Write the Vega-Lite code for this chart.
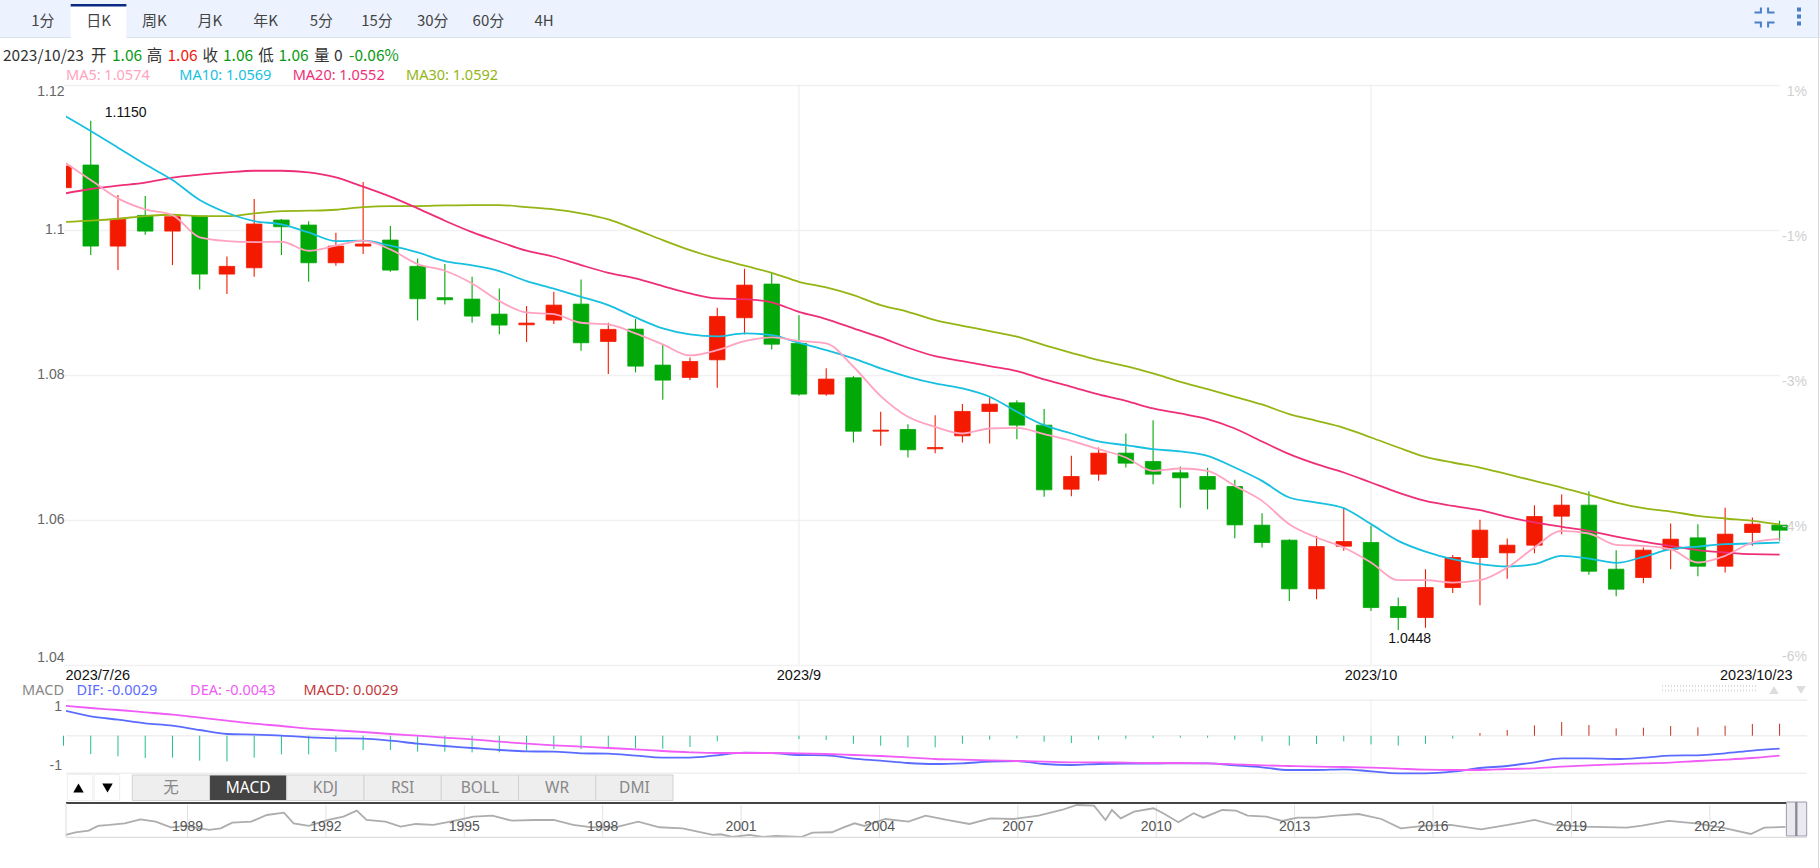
{
"$schema":"https://vega.github.io/schema/vega-lite/v6.json",
"background":"white",
"autosize":{"type":"none"},
"padding":{"left":66,"top":0,"right":13,"bottom":0},
"width":1741,"height":868,
"config":{"view":{"stroke":null},"text":{"font":"Liberation Sans"}},
"resolve":{"scale":{"x":"independent","y":"independent","color":"independent"}},
"datasets":{
"candles":[
{"date":"2023-07-26","open":1.10577,"high":1.10876,"low":1.10577,"close":1.10876,"ma5":1.10936,"ma10":1.11579,"ma20":1.10494,"ma30":1.10103,"dif":0.00477,"dea":0.0057,"macd":-0.00264},
{"date":"2023-07-27","open":1.1089,"high":1.115,"low":1.09648,"close":1.09772,"ma5":1.10683,"ma10":1.11359,"ma20":1.10559,"ma30":1.10122,"dif":0.00357,"dea":0.00523,"macd":-0.00483},
{"date":"2023-07-28","open":1.09772,"high":1.10476,"low":1.09441,"close":1.1014,"ma5":1.1043,"ma10":1.11129,"ma20":1.10605,"ma30":1.10149,"dif":0.0029,"dea":0.00483,"macd":-0.00545},
{"date":"2023-07-31","open":1.10195,"high":1.10462,"low":1.09929,"close":1.09979,"ma5":1.10278,"ma10":1.10899,"ma20":1.10646,"ma30":1.10186,"dif":0.00217,"dea":0.00437,"macd":-0.00589},
{"date":"2023-08-01","open":1.09979,"high":1.102,"low":1.0951,"close":1.10177,"ma5":1.102,"ma10":1.10683,"ma20":1.10715,"ma30":1.10204,"dif":0.0017,"dea":0.0039,"macd":-0.0058},
{"date":"2023-08-02","open":1.10186,"high":1.10186,"low":1.09175,"close":1.09386,"ma5":1.09892,"ma10":1.10407,"ma20":1.10756,"ma30":1.10186,"dif":0.00083,"dea":0.0033,"macd":-0.00659},
{"date":"2023-08-03","open":1.09386,"high":1.0963,"low":1.0911,"close":1.09492,"ma5":1.09841,"ma10":1.10232,"ma20":1.10788,"ma30":1.10186,"dif":0.00003,"dea":0.0027,"macd":-0.00677},
{"date":"2023-08-04","open":1.09473,"high":1.10421,"low":1.09349,"close":1.10076,"ma5":1.09827,"ma10":1.10117,"ma20":1.10811,"ma30":1.10223,"dif":-0.0001,"dea":0.0021,"macd":-0.0058},
{"date":"2023-08-07","open":1.10131,"high":1.10145,"low":1.09648,"close":1.10039,"ma5":1.09832,"ma10":1.10071,"ma20":1.10811,"ma30":1.10255,"dif":-0.0003,"dea":0.00163,"macd":-0.00492},
{"date":"2023-08-08","open":1.10062,"high":1.10113,"low":1.0928,"close":1.09542,"ma5":1.09708,"ma10":1.09961,"ma20":1.10788,"ma30":1.1026,"dif":-0.00063,"dea":0.0011,"macd":-0.00492},
{"date":"2023-08-09","open":1.09542,"high":1.09956,"low":1.09501,"close":1.09772,"ma5":1.09777,"ma10":1.09841,"ma20":1.10719,"ma30":1.10273,"dif":-0.00083,"dea":0.00077,"macd":-0.00422},
{"date":"2023-08-10","open":1.09772,"high":1.10655,"low":1.09662,"close":1.098,"ma5":1.09846,"ma10":1.09846,"ma20":1.10591,"ma30":1.1031,"dif":-0.0009,"dea":0.00043,"macd":-0.00378},
{"date":"2023-08-11","open":1.09855,"high":1.10048,"low":1.09418,"close":1.09441,"ma5":1.09726,"ma10":1.09777,"ma20":1.10453,"ma30":1.10324,"dif":-0.0013,"dea":0.00003,"macd":-0.00378},
{"date":"2023-08-14","open":1.09492,"high":1.09602,"low":1.08747,"close":1.09046,"ma5":1.09524,"ma10":1.09685,"ma20":1.10292,"ma30":1.10324,"dif":-0.0019,"dea":-0.0003,"macd":-0.00422},
{"date":"2023-08-15","open":1.0906,"high":1.09524,"low":1.08968,"close":1.09032,"ma5":1.09432,"ma10":1.09565,"ma20":1.10122,"ma30":1.10333,"dif":-0.00237,"dea":-0.0007,"macd":-0.00422},
{"date":"2023-08-16","open":1.09041,"high":1.09349,"low":1.08715,"close":1.08807,"ma5":1.09257,"ma10":1.09506,"ma20":1.09965,"ma30":1.10338,"dif":-0.00277,"dea":-0.00103,"macd":-0.0044},
{"date":"2023-08-17","open":1.08834,"high":1.09188,"low":1.08558,"close":1.08683,"ma5":1.09014,"ma10":1.09427,"ma20":1.09832,"ma30":1.10338,"dif":-0.00317,"dea":-0.0015,"macd":-0.0044},
{"date":"2023-08-18","open":1.08687,"high":1.08945,"low":1.08448,"close":1.0871,"ma5":1.08857,"ma10":1.09289,"ma20":1.09708,"ma30":1.1031,"dif":-0.00343,"dea":-0.0019,"macd":-0.00396},
{"date":"2023-08-21","open":1.08752,"high":1.09142,"low":1.08696,"close":1.08958,"ma5":1.08834,"ma10":1.09184,"ma20":1.09625,"ma30":1.10278,"dif":-0.0035,"dea":-0.00223,"macd":-0.00352},
{"date":"2023-08-22","open":1.08972,"high":1.09312,"low":1.08329,"close":1.08439,"ma5":1.08715,"ma10":1.09073,"ma20":1.0951,"ma30":1.10223,"dif":-0.00383,"dea":-0.0025,"macd":-0.00352},
{"date":"2023-08-23","open":1.08457,"high":1.08715,"low":1.08007,"close":1.08623,"ma5":1.08692,"ma10":1.08958,"ma20":1.09404,"ma30":1.1014,"dif":-0.0039,"dea":-0.00277,"macd":-0.00299},
{"date":"2023-08-24","open":1.08627,"high":1.08765,"low":1.0803,"close":1.08117,"ma5":1.08568,"ma10":1.08788,"ma20":1.09326,"ma30":1.10002,"dif":-0.0043,"dea":-0.00303,"macd":-0.00334},
{"date":"2023-08-25","open":1.08131,"high":1.08416,"low":1.07653,"close":1.07924,"ma5":1.08416,"ma10":1.08637,"ma20":1.09221,"ma30":1.09855,"dif":-0.0047,"dea":-0.00337,"macd":-0.00343},
{"date":"2023-08-28","open":1.07961,"high":1.08237,"low":1.07924,"close":1.08181,"ma5":1.08264,"ma10":1.08554,"ma20":1.09119,"ma30":1.09717,"dif":-0.0047,"dea":-0.00363,"macd":-0.00299},
{"date":"2023-08-29","open":1.08204,"high":1.08922,"low":1.07818,"close":1.08802,"ma5":1.08338,"ma10":1.08526,"ma20":1.0905,"ma30":1.09602,"dif":-0.00423,"dea":-0.00377,"macd":-0.00149},
{"date":"2023-08-30","open":1.08784,"high":1.0946,"low":1.08554,"close":1.09234,"ma5":1.08462,"ma10":1.08568,"ma20":1.09041,"ma30":1.09501,"dif":-0.0037,"dea":-0.00377,"macd":0},
{"date":"2023-08-31","open":1.09248,"high":1.09404,"low":1.08347,"close":1.0842,"ma5":1.08512,"ma10":1.08545,"ma20":1.08995,"ma30":1.09404,"dif":-0.00377,"dea":-0.00377,"macd":0},
{"date":"2023-09-01","open":1.0843,"high":1.0882,"low":1.07708,"close":1.07731,"ma5":1.08466,"ma10":1.08439,"ma20":1.08866,"ma30":1.0928,"dif":-0.00417,"dea":-0.00383,"macd":-0.00088},
{"date":"2023-09-04","open":1.07731,"high":1.08089,"low":1.07708,"close":1.07938,"ma5":1.0843,"ma10":1.08338,"ma20":1.08765,"ma30":1.09202,"dif":-0.00423,"dea":-0.00397,"macd":-0.00114},
{"date":"2023-09-05","open":1.07956,"high":1.07979,"low":1.07064,"close":1.0722,"ma5":1.08108,"ma10":1.08223,"ma20":1.08637,"ma30":1.09096,"dif":-0.0049,"dea":-0.00417,"macd":-0.00211},
{"date":"2023-09-06","open":1.0722,"high":1.07487,"low":1.07018,"close":1.07234,"ma5":1.07703,"ma10":1.08085,"ma20":1.08512,"ma30":1.08958,"dif":-0.0053,"dea":-0.00437,"macd":-0.00264},
{"date":"2023-09-07","open":1.07243,"high":1.07317,"low":1.06857,"close":1.06963,"ma5":1.07418,"ma10":1.0797,"ma20":1.0837,"ma30":1.08866,"dif":-0.00577,"dea":-0.00463,"macd":-0.00308},
{"date":"2023-09-08","open":1.06977,"high":1.07441,"low":1.06917,"close":1.06995,"ma5":1.0728,"ma10":1.07878,"ma20":1.08255,"ma30":1.08752,"dif":-0.00597,"dea":-0.00497,"macd":-0.00308},
{"date":"2023-09-11","open":1.07156,"high":1.07593,"low":1.07064,"close":1.07492,"ma5":1.07188,"ma10":1.07809,"ma20":1.08186,"ma30":1.08673,"dif":-0.00583,"dea":-0.0051,"macd":-0.00211},
{"date":"2023-09-12","open":1.07492,"high":1.07685,"low":1.0705,"close":1.07593,"ma5":1.07257,"ma10":1.07694,"ma20":1.08117,"ma30":1.086,"dif":-0.0055,"dea":-0.00523,"macd":-0.00105},
{"date":"2023-09-13","open":1.07611,"high":1.07648,"low":1.0711,"close":1.07303,"ma5":1.07266,"ma10":1.07487,"ma20":1.08048,"ma30":1.08522,"dif":-0.00537,"dea":-0.00537,"macd":-0.0007},
{"date":"2023-09-14","open":1.07303,"high":1.07524,"low":1.06315,"close":1.06411,"ma5":1.07179,"ma10":1.07303,"ma20":1.07933,"ma30":1.08407,"dif":-0.00597,"dea":-0.0055,"macd":-0.00158},
{"date":"2023-09-15","open":1.0642,"high":1.0688,"low":1.06324,"close":1.06595,"ma5":1.07087,"ma10":1.07188,"ma20":1.07832,"ma30":1.08301,"dif":-0.00617,"dea":-0.00563,"macd":-0.00193},
{"date":"2023-09-18","open":1.06627,"high":1.06995,"low":1.06535,"close":1.06917,"ma5":1.06972,"ma10":1.07078,"ma20":1.07726,"ma30":1.082,"dif":-0.00597,"dea":-0.00563,"macd":-0.00105},
{"date":"2023-09-19","open":1.06917,"high":1.07188,"low":1.06719,"close":1.06779,"ma5":1.06857,"ma10":1.07027,"ma20":1.07639,"ma30":1.08117,"dif":-0.0059,"dea":-0.0057,"macd":-0.00079},
{"date":"2023-09-20","open":1.06802,"high":1.07372,"low":1.06489,"close":1.06627,"ma5":1.06673,"ma10":1.06972,"ma20":1.07533,"ma30":1.08016,"dif":-0.0059,"dea":-0.00577,"macd":-0.00062},
{"date":"2023-09-21","open":1.06646,"high":1.06733,"low":1.06163,"close":1.06577,"ma5":1.06705,"ma10":1.0694,"ma20":1.07464,"ma30":1.07901,"dif":-0.00583,"dea":-0.00577,"macd":-0.00053},
{"date":"2023-09-22","open":1.06595,"high":1.06715,"low":1.06144,"close":1.0642,"ma5":1.06673,"ma10":1.0688,"ma20":1.07386,"ma30":1.078,"dif":-0.00583,"dea":-0.00583,"macd":-0.00053},
{"date":"2023-09-25","open":1.06457,"high":1.06549,"low":1.05744,"close":1.05928,"ma5":1.06466,"ma10":1.06719,"ma20":1.07257,"ma30":1.07694,"dif":-0.00623,"dea":-0.00603,"macd":-0.00105},
{"date":"2023-09-26","open":1.05924,"high":1.06089,"low":1.05616,"close":1.05685,"ma5":1.06259,"ma10":1.06535,"ma20":1.07078,"ma30":1.07588,"dif":-0.00663,"dea":-0.00623,"macd":-0.00149},
{"date":"2023-09-27","open":1.05717,"high":1.05731,"low":1.0488,"close":1.05046,"ma5":1.05938,"ma10":1.06305,"ma20":1.06903,"ma30":1.07455,"dif":-0.00717,"dea":-0.00637,"macd":-0.00264},
{"date":"2023-09-28","open":1.05046,"high":1.05777,"low":1.04903,"close":1.05629,"ma5":1.05754,"ma10":1.06236,"ma20":1.06765,"ma30":1.07363,"dif":-0.00717,"dea":-0.0065,"macd":-0.0022},
{"date":"2023-09-29","open":1.05634,"high":1.06167,"low":1.0557,"close":1.05698,"ma5":1.05616,"ma10":1.06158,"ma20":1.0665,"ma30":1.07266,"dif":-0.00703,"dea":-0.00657,"macd":-0.00149},
{"date":"2023-10-02","open":1.05685,"high":1.05915,"low":1.04742,"close":1.04788,"ma5":1.05409,"ma10":1.05938,"ma20":1.06512,"ma30":1.07133,"dif":-0.00743,"dea":-0.0067,"macd":-0.00229},
{"date":"2023-10-03","open":1.04802,"high":1.04926,"low":1.0448,"close":1.0465,"ma5":1.05165,"ma10":1.05708,"ma20":1.06374,"ma30":1.06995,"dif":-0.00783,"dea":-0.0069,"macd":-0.00264},
{"date":"2023-10-04","open":1.0465,"high":1.05317,"low":1.04508,"close":1.05064,"ma5":1.05165,"ma10":1.0556,"ma20":1.06259,"ma30":1.06866,"dif":-0.00783,"dea":-0.0071,"macd":-0.00211},
{"date":"2023-10-05","open":1.05064,"high":1.05514,"low":1.0499,"close":1.05478,"ma5":1.05133,"ma10":1.05455,"ma20":1.0619,"ma30":1.06788,"dif":-0.0075,"dea":-0.00717,"macd":-0.00079},
{"date":"2023-10-06","open":1.05478,"high":1.05997,"low":1.0482,"close":1.05855,"ma5":1.05165,"ma10":1.05386,"ma20":1.06131,"ma30":1.06719,"dif":-0.00677,"dea":-0.00717,"macd":0.0007},
{"date":"2023-10-09","open":1.05542,"high":1.0574,"low":1.05184,"close":1.05648,"ma5":1.0534,"ma10":1.05354,"ma20":1.06039,"ma30":1.06627,"dif":-0.00637,"dea":-0.00697,"macd":0.00149},
{"date":"2023-10-10","open":1.05648,"high":1.062,"low":1.05538,"close":1.06043,"ma5":1.05616,"ma10":1.05386,"ma20":1.05961,"ma30":1.06535,"dif":-0.00563,"dea":-0.00683,"macd":0.00272},
{"date":"2023-10-11","open":1.06048,"high":1.06347,"low":1.058,"close":1.062,"ma5":1.05846,"ma10":1.05501,"ma20":1.05901,"ma30":1.06443,"dif":-0.00483,"dea":-0.0065,"macd":0.0036},
{"date":"2023-10-12","open":1.062,"high":1.06393,"low":1.05239,"close":1.05289,"ma5":1.05809,"ma10":1.05464,"ma20":1.05846,"ma30":1.06342,"dif":-0.00483,"dea":-0.00623,"macd":0.00281},
{"date":"2023-10-13","open":1.05317,"high":1.05579,"low":1.04944,"close":1.05041,"ma5":1.05653,"ma10":1.05404,"ma20":1.05767,"ma30":1.06236,"dif":-0.00497,"dea":-0.00603,"macd":0.00193},
{"date":"2023-10-16","open":1.05202,"high":1.05616,"low":1.05124,"close":1.05579,"ma5":1.05639,"ma10":1.05487,"ma20":1.05698,"ma30":1.06158,"dif":-0.0047,"dea":-0.00583,"macd":0.00211},
{"date":"2023-10-17","open":1.05593,"high":1.05947,"low":1.05317,"close":1.05731,"ma5":1.05593,"ma10":1.05593,"ma20":1.05639,"ma30":1.06112,"dif":-0.0043,"dea":-0.0057,"macd":0.00255},
{"date":"2023-10-18","open":1.05749,"high":1.05938,"low":1.0522,"close":1.05358,"ma5":1.05409,"ma10":1.05629,"ma20":1.05579,"ma30":1.06053,"dif":-0.00423,"dea":-0.00537,"macd":0.0022},
{"date":"2023-10-19","open":1.05358,"high":1.06163,"low":1.05271,"close":1.058,"ma5":1.05501,"ma10":1.05662,"ma20":1.05547,"ma30":1.06016,"dif":-0.00383,"dea":-0.0051,"macd":0.00264},
{"date":"2023-10-20","open":1.05823,"high":1.0603,"low":1.05639,"close":1.05938,"ma5":1.05685,"ma10":1.05671,"ma20":1.05524,"ma30":1.05984,"dif":-0.0033,"dea":-0.00477,"macd":0.00308},
{"date":"2023-10-23","open":1.05924,"high":1.05984,"low":1.05708,"close":1.05855,"ma5":1.05735,"ma10":1.05685,"ma20":1.05519,"ma30":1.05933,"dif":-0.0029,"dea":-0.0043,"macd":0.00316}
],
"history":[
{"t":1986.36,"v":0.898},{"t":1986.57,"v":0.961},{"t":1986.86,"v":0.999},{"t":1987.06,"v":1.109},{"t":1987.31,"v":1.132},{"t":1987.64,"v":1.171},{"t":1987.98,"v":1.265},{"t":1988.31,"v":1.21},{"t":1988.64,"v":1.078},{"t":1988.97,"v":1.109},{"t":1989.47,"v":1.015},{"t":1989.72,"v":1.054},{"t":1989.97,"v":1.186},{"t":1990.38,"v":1.21},{"t":1990.72,"v":1.366},{"t":1991.09,"v":1.42},{"t":1991.3,"v":1.171},{"t":1991.63,"v":1.109},{"t":1992.05,"v":1.249},{"t":1992.38,"v":1.326},{"t":1992.67,"v":1.467},{"t":1992.88,"v":1.249},{"t":1993.29,"v":1.21},{"t":1993.62,"v":1.092},{"t":1993.95,"v":1.155},{"t":1994.33,"v":1.132},{"t":1994.7,"v":1.21},{"t":1995.2,"v":1.326},{"t":1995.61,"v":1.35},{"t":1996.03,"v":1.233},{"t":1996.53,"v":1.249},{"t":1996.94,"v":1.249},{"t":1997.36,"v":1.132},{"t":1997.77,"v":1.078},{"t":1998.27,"v":1.078},{"t":1998.77,"v":1.21},{"t":1999.23,"v":1.078},{"t":1999.73,"v":1.054},{"t":2000.39,"v":0.898},{"t":2000.56,"v":0.914},{"t":2000.81,"v":0.835},{"t":2001.18,"v":0.898},{"t":2001.47,"v":0.835},{"t":2001.76,"v":0.875},{"t":2002.3,"v":0.835},{"t":2002.55,"v":0.952},{"t":2002.97,"v":0.961},{"t":2003.21,"v":1.069},{"t":2003.46,"v":1.171},{"t":2003.67,"v":1.109},{"t":2004.13,"v":1.272},{"t":2004.63,"v":1.21},{"t":2005,"v":1.35},{"t":2005.46,"v":1.249},{"t":2005.95,"v":1.155},{"t":2006.41,"v":1.288},{"t":2006.91,"v":1.272},{"t":2007.45,"v":1.35},{"t":2007.95,"v":1.483},{"t":2008.28,"v":1.6},{"t":2008.65,"v":1.584},{"t":2008.9,"v":1.249},{"t":2009.04,"v":1.483},{"t":2009.23,"v":1.288},{"t":2009.52,"v":1.443},{"t":2009.94,"v":1.523},{"t":2010.15,"v":1.406},{"t":2010.48,"v":1.195},{"t":2010.81,"v":1.406},{"t":2011.02,"v":1.303},{"t":2011.43,"v":1.483},{"t":2011.73,"v":1.467},{"t":2011.98,"v":1.35},{"t":2012.39,"v":1.326},{"t":2012.73,"v":1.226},{"t":2013.06,"v":1.303},{"t":2013.47,"v":1.303},{"t":2013.89,"v":1.35},{"t":2014.39,"v":1.389},{"t":2014.88,"v":1.272},{"t":2015.3,"v":1.054},{"t":2015.8,"v":1.109},{"t":2016.38,"v":1.132},{"t":2017.04,"v":1.031},{"t":2017.62,"v":1.132},{"t":2018.2,"v":1.249},{"t":2018.62,"v":1.132},{"t":2019.28,"v":1.092},{"t":2020.2,"v":1.069},{"t":2020.53,"v":1.116},{"t":2021.11,"v":1.226},{"t":2021.69,"v":1.171},{"t":2022.27,"v":1.069},{"t":2022.89,"v":0.921},{"t":2023.18,"v":1.069},{"t":2023.64,"v":1.085}
],
"years":[{"t":1989},{"t":1992},{"t":1995},{"t":1998},{"t":2001},{"t":2004},{"t":2007},{"t":2010},{"t":2013},{"t":2016},{"t":2019},{"t":2022}]
},
"layer":[
{"data":{"values":[{}]},"mark":{"type":"rect","fill":"#ecf3fe"},"encoding":{"x":{"value":-66},"x2":{"value":1754},"y":{"value":0},"y2":{"value":37}}},
{"data":{"values":[{}]},"mark":{"type":"rule","stroke":"#d9e3ef","strokeWidth":1.2},"encoding":{"x":{"value":-66},"x2":{"value":1754},"y":{"value":37.5}}},
{"data":{"values":[{}]},"mark":{"type":"rule","stroke":"#d8d8d8","strokeWidth":1},"encoding":{"x":{"value":1752.5},"y":{"value":0},"y2":{"value":868}}},
{"data":{"values":[{"tab":"1分"},{"tab":"日K"},{"tab":"周K"},{"tab":"月K"},{"tab":"年K"},{"tab":"5分"},{"tab":"15分"},{"tab":"30分"},{"tab":"60分"},{"tab":"4H"}]},
 "encoding":{"x":{"field":"tab","type":"nominal","axis":null,"scale":{"type":"band","padding":0,"domain":["1分","日K","周K","月K","年K","5分","15分","30分","60分","4H"],"range":[-51,506]}}},
 "layer":[
  {"transform":[{"filter":"datum.tab=='日K'"}],"mark":{"type":"bar","fill":"white"},"encoding":{"y":{"value":5},"y2":{"value":38}}},
  {"transform":[{"filter":"datum.tab=='日K'"}],"mark":{"type":"bar","fill":"#0b2a85"},"encoding":{"y":{"value":4},"y2":{"value":6.5}}},
  {"mark":{"type":"text","font":"Noto Sans CJK SC","fontSize":15,"fill":"#444"},"encoding":{"text":{"field":"tab"},"y":{"value":21}}}
 ]},
{"data":{"values":[{}]},"mark":{"type":"point","filled":true,"opacity":1,"color":"#4a7ec8","size":1600,"shape":"M-.5,-.2H-.13V-.5H-.23V-.3H-.5ZM.5,-.2H.13V-.5H.23V-.3H.5ZM-.5,.2H-.13V.5H-.23V.3H-.5ZM.5,.2H.13V.5H.23V.3H.5Z"},"encoding":{"x":{"value":1698.5},"y":{"value":17.5}}},
{"data":{"values":[{}]},"mark":{"type":"point","filled":true,"opacity":1,"color":"#4a7ec8","size":1600,"shape":"M-.1,-.45H.1V-.25H-.1ZM-.1,-.1H.1V.1H-.1ZM-.1,.25H.1V.45H-.1Z"},"encoding":{"x":{"value":1733},"y":{"value":16.5}}},
{"data":{"values":[{"day":"2023/10/23"}]},"mark":{"type":"text","align":"left","font":"Noto Sans CJK SC","fontSize":15.5,"fill":"#333"},"encoding":{"text":{"field":"day"},"x":{"value":-63},"y":{"value":56}}},
{"data":{"values":[{"k":"开"},{"k":"高"},{"k":"收"},{"k":"低"},{"k":"量"}]},"mark":{"type":"text","align":"left","font":"Noto Sans CJK SC","fontSize":15.5,"fill":"#333"},"encoding":{"text":{"field":"k"},"x":{"field":"k","type":"nominal","axis":null,"sort":null,"scale":{"type":"point","padding":0,"range":[25,248]}},"y":{"value":56}}},
{"data":{"values":[{"k":"开","v":"1.06","state":"down"},{"k":"高","v":"1.06","state":"up"},{"k":"收","v":"1.06","state":"down"},{"k":"低","v":"1.06","state":"down"},{"k":"量","v":"0","state":"flat"}]},"mark":{"type":"text","align":"left","font":"Noto Sans CJK SC","fontSize":15.5},"encoding":{"text":{"field":"v"},"x":{"field":"k","type":"nominal","axis":null,"sort":null,"scale":{"type":"point","padding":0,"range":[46,268]}},"y":{"value":56},"color":{"field":"state","type":"nominal","legend":null,"scale":{"domain":["up","down","flat"],"range":["#f01a10","#0a9a14","#333333"]}}}},
{"data":{"values":[{"chg":"-0.06%"}]},"mark":{"type":"text","align":"left","font":"Noto Sans CJK SC","fontSize":15.5,"fill":"#0a9a14"},"encoding":{"text":{"field":"chg"},"x":{"value":283},"y":{"value":56}}},
{"data":{"values":[{"name":"MA5","label":"MA5: 1.0574"},{"name":"MA10","label":"MA10: 1.0569"},{"name":"MA20","label":"MA20: 1.0552"},{"name":"MA30","label":"MA30: 1.0592"}]},"mark":{"type":"text","align":"left","font":"Noto Sans","fontSize":14.5},"encoding":{"text":{"field":"label"},"x":{"field":"name","type":"nominal","axis":null,"sort":null,"scale":{"type":"point","padding":0,"range":[0,340]}},"y":{"value":75.5},"color":{"field":"name","type":"nominal","legend":null,"scale":{"domain":["MA5","MA10","MA20","MA30"],"range":["#ffa3c0","#17bfe0","#ee2f78","#94b514"]}}}},
{"data":{"name":"candles"},
 "encoding":{"x":{"field":"date","type":"ordinal","axis":null,"scale":{"type":"point","padding":0,"range":[-2.5,1713.6],"domain":["2023-07-26","2023-07-27","2023-07-28","2023-07-31","2023-08-01","2023-08-02","2023-08-03","2023-08-04","2023-08-07","2023-08-08","2023-08-09","2023-08-10","2023-08-11","2023-08-14","2023-08-15","2023-08-16","2023-08-17","2023-08-18","2023-08-21","2023-08-22","2023-08-23","2023-08-24","2023-08-25","2023-08-28","2023-08-29","2023-08-30","2023-08-31","2023-09-01","2023-09-04","2023-09-05","2023-09-06","2023-09-07","2023-09-08","2023-09-11","2023-09-12","2023-09-13","2023-09-14","2023-09-15","2023-09-18","2023-09-19","2023-09-20","2023-09-21","2023-09-22","2023-09-25","2023-09-26","2023-09-27","2023-09-28","2023-09-29","2023-10-02","2023-10-03","2023-10-04","2023-10-05","2023-10-06","2023-10-09","2023-10-10","2023-10-11","2023-10-12","2023-10-13","2023-10-16","2023-10-17","2023-10-18","2023-10-19","2023-10-20","2023-10-23"]}}},
 "resolve":{"scale":{"y":"independent"}},
 "layer":[
  {"layer":[
   {"transform":[{"filter":"datum.date=='2023-09-01'||datum.date=='2023-10-02'"}],"mark":{"type":"rule","stroke":"#eeeeee","strokeWidth":1.2},"encoding":{"y":{"datum":1.12,"title":null,"scale":{"domain":[1.04,1.12],"range":[664.7,84.5]},"axis":{"values":[1.04,1.06,1.08,1.1,1.12],"format":".2~f","orient":"left","grid":true,"gridColor":"#f1f1f1","gridWidth":1.6,"domain":false,"ticks":false,"labelFontSize":14,"labelColor":"#666666","labelFont":"Liberation Sans","labelFlush":true,"labelPadding":2,"title":null}},"y2":{"datum":1.04}}},
   {"mark":{"type":"rule","clip":true,"strokeWidth":1.1},"encoding":{"y":{"field":"low","type":"quantitative","title":null,"scale":{"domain":[1.04,1.12],"range":[664.7,84.5]}},"y2":{"field":"high"},"color":{"condition":{"test":"datum.close>datum.open","value":"#f41a00"},"value":"#00a808"}}},
   {"mark":{"type":"bar","clip":true,"size":15.5,"strokeWidth":0.8},"encoding":{"y":{"field":"open","type":"quantitative","title":null,"scale":{"domain":[1.04,1.12],"range":[664.7,84.5]}},"y2":{"field":"close"},"color":{"condition":{"test":"datum.close>datum.open","value":"#f41a00"},"value":"#00a808"},"stroke":{"condition":{"test":"datum.close>datum.open","value":"#f41a00"},"value":"#00a808"}}},
   {"mark":{"type":"line","clip":true,"stroke":"#94b514","strokeWidth":1.8,"interpolate":"monotone"},"encoding":{"y":{"field":"ma30","type":"quantitative","title":null,"scale":{"domain":[1.04,1.12],"range":[664.7,84.5]}}}},
   {"mark":{"type":"line","clip":true,"stroke":"#ee2f78","strokeWidth":1.8,"interpolate":"monotone"},"encoding":{"y":{"field":"ma20","type":"quantitative","title":null,"scale":{"domain":[1.04,1.12],"range":[664.7,84.5]}}}},
   {"mark":{"type":"line","clip":true,"stroke":"#17bfe0","strokeWidth":1.8,"interpolate":"monotone"},"encoding":{"y":{"field":"ma10","type":"quantitative","title":null,"scale":{"domain":[1.04,1.12],"range":[664.7,84.5]}}}},
   {"mark":{"type":"line","clip":true,"stroke":"#ffa3c0","strokeWidth":1.8,"interpolate":"monotone"},"encoding":{"y":{"field":"ma5","type":"quantitative","title":null,"scale":{"domain":[1.04,1.12],"range":[664.7,84.5]}}}},
   {"transform":[{"filter":"datum.date=='2023-07-27'"}],"mark":{"type":"text","align":"left","dx":14,"dy":-8,"fontSize":14,"fill":"#111"},"encoding":{"y":{"field":"high","type":"quantitative","title":null,"scale":{"domain":[1.04,1.12],"range":[664.7,84.5]}},"text":{"field":"high","format":".4f"}}},
   {"transform":[{"filter":"datum.date=='2023-10-03'"}],"mark":{"type":"text","align":"left","dx":-10,"dy":9,"fontSize":14,"fill":"#111"},"encoding":{"y":{"field":"low","type":"quantitative","title":null,"scale":{"domain":[1.04,1.12],"range":[664.7,84.5]}},"text":{"field":"low","format":".4f"}}},
   {"data":{"values":[{"price":1.12,"pct":"1%"},{"price":1.1,"pct":"-1%"},{"price":1.08,"pct":"-3%"},{"price":1.06,"pct":"-4%"}]},"mark":{"type":"text","align":"right","dy":7.5,"fontSize":14,"fill":"#cfcfcf"},"encoding":{"x":{"value":1741},"y":{"field":"price","type":"quantitative","title":null,"scale":{"domain":[1.04,1.12],"range":[664.7,84.5]}},"text":{"field":"pct"}}},
   {"data":{"values":[{"price":1.04,"pct":"-6%"}]},"mark":{"type":"text","align":"right","dy":-8,"fontSize":14,"fill":"#cfcfcf"},"encoding":{"x":{"value":1741},"y":{"field":"price","type":"quantitative","title":null,"scale":{"domain":[1.04,1.12],"range":[664.7,84.5]}},"text":{"field":"pct"}}},
   {"data":{"values":[{"date":"2023-07-26","label":"2023/7/26"}]},"mark":{"type":"text","align":"left","dx":2,"fontSize":14.5,"fill":"#111"},"encoding":{"y":{"value":675.5},"text":{"field":"label"}}},
   {"data":{"values":[{"date":"2023-09-01","label":"2023/9"},{"date":"2023-10-02","label":"2023/10"}]},"mark":{"type":"text","align":"center","fontSize":14.5,"fill":"#111"},"encoding":{"y":{"value":675.5},"text":{"field":"label"}}},
   {"data":{"values":[{"date":"2023-10-23","label":"2023/10/23"}]},"mark":{"type":"text","align":"right","dx":13,"fontSize":14.5,"fill":"#111"},"encoding":{"y":{"value":675.5},"text":{"field":"label"}}}
  ]},
  {"layer":[
   {"data":{"values":[{"level":0.00933},{"level":0},{"level":-0.00991}]},"mark":{"type":"rule","stroke":"#efefef","strokeWidth":1.5},"encoding":{"x":{"value":0},"x2":{"value":1741},"y":{"field":"level","type":"quantitative","title":null,"axis":null,"scale":{"domain":[-0.00991,0.00933],"range":[773.3,700.3]}}}},
   {"transform":[{"filter":"datum.date=='2023-09-01'||datum.date=='2023-10-02'"}],"mark":{"type":"rule","stroke":"#eeeeee","strokeWidth":1},"encoding":{"y":{"datum":0.00933,"title":null,"axis":null,"scale":{"domain":[-0.00991,0.00933],"range":[773.3,700.3]}},"y2":{"datum":-0.00991}}},
   {"mark":{"type":"rule","strokeWidth":1},"encoding":{"y":{"field":"macd","type":"quantitative","title":null,"axis":null,"scale":{"domain":[-0.00991,0.00933],"range":[773.3,700.3]}},"y2":{"datum":0},"color":{"condition":{"test":"datum.macd>0","value":"#c5301f"},"value":"#1fbf90"}}},
   {"data":{"values":[{"level":0.00757,"t":"1"},{"level":-0.008,"t":"-1"}]},"mark":{"type":"text","align":"right","fontSize":14,"fill":"#666666"},"encoding":{"x":{"value":-4},"y":{"field":"level","type":"quantitative","title":null,"axis":null,"scale":{"domain":[-0.00991,0.00933],"range":[773.3,700.3]}},"text":{"field":"t"}}}
  ]},
  {"layer":[
   {"mark":{"type":"line","clip":true,"stroke":"#5a6cff","strokeWidth":1.8,"interpolate":"monotone"},"encoding":{"y":{"field":"dif","type":"quantitative","title":null,"axis":null,"scale":{"domain":[-0.00783,0.00677],"range":[773.3,700.3]}}}},
   {"mark":{"type":"line","clip":true,"stroke":"#f05cf5","strokeWidth":1.8,"interpolate":"monotone"},"encoding":{"y":{"field":"dea","type":"quantitative","title":null,"axis":null,"scale":{"domain":[-0.00783,0.00677],"range":[773.3,700.3]}}}}
  ]}
 ]},
{"data":{"values":[{"t":"MACD"}]},"mark":{"type":"text","align":"right","font":"Noto Sans","fontSize":14.5,"fill":"#888888"},"encoding":{"x":{"value":-2},"y":{"value":690.5},"text":{"field":"t"}}},
{"data":{"values":[{"name":"DIF","label":"DIF: -0.0029"},{"name":"DEA","label":"DEA: -0.0043"},{"name":"MACD","label":"MACD: 0.0029"}]},"mark":{"type":"text","align":"left","font":"Noto Sans","fontSize":14.5},"encoding":{"text":{"field":"label"},"x":{"field":"name","type":"nominal","axis":null,"sort":null,"scale":{"type":"point","padding":0,"range":[10.6,237.5]}},"y":{"value":690.5},"color":{"field":"name","type":"nominal","legend":null,"scale":{"domain":["DIF","DEA","MACD"],"range":["#5a6cff","#f05cf5","#c23a3a"]}}}},
{"data":{"values":[{}]},"mark":{"type":"rule","stroke":"#dddddd","strokeWidth":2,"strokeDash":[1,2]},"encoding":{"x":{"value":1596},"x2":{"value":1692},"y":{"value":686}}},
{"data":{"values":[{}]},"mark":{"type":"rule","stroke":"#dddddd","strokeWidth":2,"strokeDash":[1,2]},"encoding":{"x":{"value":1596},"x2":{"value":1692},"y":{"value":690.5}}},
{"data":{"values":[{}]},"mark":{"type":"point","shape":"triangle-up","filled":true,"opacity":1,"color":"#dddddd","size":90},"encoding":{"x":{"value":1708},"y":{"value":690}}},
{"data":{"values":[{}]},"mark":{"type":"point","shape":"triangle-down","filled":true,"opacity":1,"color":"#dddddd","size":90},"encoding":{"x":{"value":1735},"y":{"value":690}}},
{"data":{"values":[{"dir":"up"},{"dir":"down"}]},"mark":{"type":"bar","fill":"white","stroke":"#eeeeee","strokeWidth":1},"encoding":{"x":{"field":"dir","type":"nominal","axis":null,"sort":null,"scale":{"type":"band","padding":0.05,"range":[0,55]}},"y":{"value":774.5},"y2":{"value":800.5}}},
{"data":{"values":[{}]},"mark":{"type":"point","shape":"triangle-up","filled":true,"opacity":1,"color":"#000000","size":110},"encoding":{"x":{"value":12.5},"y":{"value":788}}},
{"data":{"values":[{}]},"mark":{"type":"point","shape":"triangle-down","filled":true,"opacity":1,"color":"#000000","size":110},"encoding":{"x":{"value":41.5},"y":{"value":788}}},
{"data":{"values":[{"ind":"无"},{"ind":"MACD"},{"ind":"KDJ"},{"ind":"RSI"},{"ind":"BOLL"},{"ind":"WR"},{"ind":"DMI"}]},
 "encoding":{"x":{"field":"ind","type":"nominal","axis":null,"scale":{"type":"band","padding":0,"domain":["无","MACD","KDJ","RSI","BOLL","WR","DMI"],"range":[66.3,607]}}},
 "layer":[
  {"mark":{"type":"bar","stroke":"#d2d2d2","strokeWidth":1},"encoding":{"y":{"value":775},"y2":{"value":800.5},"color":{"condition":{"test":"datum.ind=='MACD'","value":"#444444"},"value":"#eeeeee"}}},
  {"mark":{"type":"text","font":"Noto Sans, Noto Sans CJK SC","fontSize":15.5},"encoding":{"y":{"value":788},"text":{"field":"ind"},"color":{"condition":{"test":"datum.ind=='MACD'","value":"#ffffff"},"value":"#888888"}}}
 ]},
{"data":{"name":"years"},
 "encoding":{"x":{"field":"t","type":"quantitative","axis":null,"title":null,"scale":{"zero":false,"nice":false,"domain":[1989,2022],"range":[121.5,1643.8]}}},
 "layer":[
  {"mark":{"type":"rule","stroke":"#e2e2e2","strokeWidth":1},"encoding":{"y":{"value":805},"y2":{"value":837}}},
  {"data":{"name":"history"},"mark":{"type":"line","stroke":"#adadad","strokeWidth":1.8},"encoding":{"y":{"field":"v","type":"quantitative","axis":null,"title":null,"scale":{"domain":[0.85,1.6],"range":[837,805],"clamp":true,"zero":false,"nice":false}}}},
  {"mark":{"type":"text","fontSize":14,"fill":"#555555"},"encoding":{"y":{"value":827},"text":{"field":"t","format":"d"}}},
  {"data":{"values":[{"t":2023.66,"end":2024.1}]},"mark":{"type":"rect","fill":"#e9e9ef","stroke":"#9a9aaa","strokeWidth":1},"encoding":{"x2":{"field":"end"},"y":{"value":802},"y2":{"value":836}}},
  {"data":{"values":[{"t":2023.85,"end":2023.9}]},"mark":{"type":"rect","fill":"#8a8a96"},"encoding":{"x2":{"field":"end"},"y":{"value":802},"y2":{"value":836}}}
 ]},
{"data":{"values":[{}]},"mark":{"type":"rule","stroke":"#444444","strokeWidth":2.2},"encoding":{"x":{"value":0},"x2":{"value":1720},"y":{"value":803}}},
{"data":{"values":[{}]},"mark":{"type":"rule","stroke":"#dddddd","strokeWidth":1.2},"encoding":{"x":{"value":0},"x2":{"value":1741},"y":{"value":837.3}}},
{"data":{"values":[{}]},"mark":{"type":"rule","stroke":"#dddddd","strokeWidth":1},"encoding":{"x":{"value":0},"y":{"value":803},"y2":{"value":837}}}
]
}
